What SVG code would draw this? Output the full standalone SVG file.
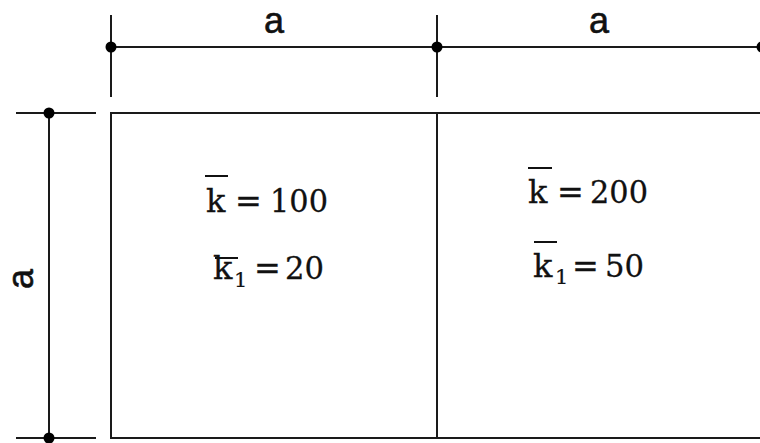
<svg xmlns="http://www.w3.org/2000/svg" width="760" height="443" viewBox="0 0 760 443">
<style>
.ln{stroke:#1a1a1a;stroke-width:2;fill:none}
.dot{fill:#000}
.dim{font-family:"Liberation Sans",Arial,sans-serif;font-size:36px;fill:#111;stroke:#111;stroke-width:0.6}
.m{font-family:"DejaVu Serif","Liberation Serif",serif;font-size:32px;fill:#111;stroke:#111;stroke-width:0.3}
.sub{font-family:"DejaVu Serif","Liberation Serif",serif;font-size:21px;fill:#111;stroke:#111;stroke-width:0.2}
.bar{stroke:#111;stroke-width:2}
</style>
<rect width="760" height="443" fill="#fff"/>
<g id="connectors">
<line class="ln" x1="111" y1="15" x2="111" y2="97"/>
<line class="ln" x1="437" y1="15" x2="437" y2="97"/>
<line class="ln" x1="111" y1="47" x2="762" y2="47"/>
<circle class="dot" cx="111" cy="47" r="5.5"/>
<circle class="dot" cx="437" cy="47" r="5.5"/>
<circle class="dot" cx="762" cy="47" r="5.5"/>
<line class="ln" x1="16" y1="113" x2="96" y2="113"/>
<line class="ln" x1="16" y1="438" x2="96" y2="438"/>
<line class="ln" x1="49" y1="113" x2="49" y2="438"/>
<circle class="dot" cx="49" cy="113" r="5.5"/>
<circle class="dot" cx="49" cy="438" r="5.5"/>
<text class="dim" x="274" y="33" text-anchor="middle">a</text>
<text class="dim" x="599" y="33" text-anchor="middle">a</text>
<text class="dim" transform="translate(33,279) rotate(-90)" text-anchor="middle">a</text>
</g>
<g id="left-panel">
<path class="ln" d="M111,113 H437 V438 H111 Z"/>
<line class="bar" x1="205" y1="176" x2="228" y2="176"/>
<text class="m" x="206" y="212">k</text>
<text class="m" x="235" y="212">=</text>
<text class="m" x="270" y="212" textLength="58" lengthAdjust="spacingAndGlyphs">100</text>
<line class="bar" x1="215" y1="258" x2="238" y2="258"/>
<text class="m" x="213" y="279">k</text>
<text class="m" x="254" y="279">=</text>
<text class="m" x="285" y="279" textLength="39" lengthAdjust="spacingAndGlyphs">20</text>
<text class="sub" x="234" y="287">1</text>
</g>
<g id="right-panel">
<path class="ln" d="M437,113 H762 M437,438 H762"/>
<line class="bar" x1="528" y1="168" x2="552" y2="168"/>
<text class="m" x="528" y="203">k</text>
<text class="m" x="557" y="203">=</text>
<text class="m" x="590" y="203" textLength="58" lengthAdjust="spacingAndGlyphs">200</text>
<line class="bar" x1="534" y1="242" x2="557" y2="242"/>
<text class="m" x="533" y="277">k</text>
<text class="m" x="572" y="277">=</text>
<text class="m" x="605" y="277" textLength="39" lengthAdjust="spacingAndGlyphs">50</text>
<text class="sub" x="555" y="284">1</text>
</g>
</svg>
